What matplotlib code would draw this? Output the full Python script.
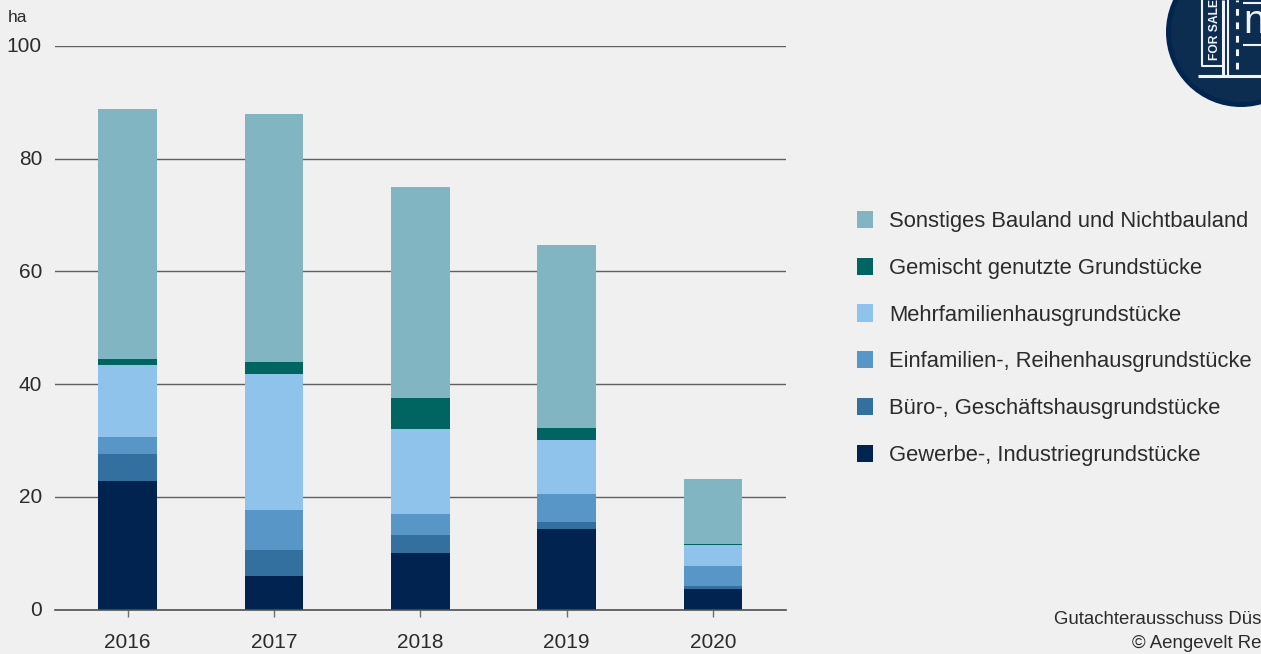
import numpy as np
import matplotlib
matplotlib.use("Agg")
import matplotlib.pyplot as plt
from matplotlib.patches import Circle, Patch
from matplotlib.transforms import ScaledTranslation

plt.rcParams['font.family'] = ['Liberation Sans', 'DejaVu Sans']

years = ['2016', '2017', '2018', '2019', '2020']
gewerbe = [22.8, 5.9, 10.0, 14.2, 3.6]
buero = [4.8, 4.6, 3.2, 1.3, 0.5]
einfamilien = [3.0, 7.1, 3.7, 5.0, 3.6]
mehrfamilien = [12.8, 24.2, 15.1, 9.5, 3.7]
gemischt = [1.0, 2.1, 5.5, 2.2, 0.2]
sonstiges = [44.4, 44.0, 37.5, 32.5, 11.6]

series = [
    ('Gewerbe-, Industriegrundstücke', gewerbe, '#002350'),
    ('Büro-, Geschäftshausgrundstücke', buero, '#33709f'),
    ('Einfamilien-, Reihenhausgrundstücke', einfamilien, '#5796c7'),
    ('Mehrfamilienhausgrundstücke', mehrfamilien, '#90c3ec'),
    ('Gemischt genutzte Grundstücke', gemischt, '#006560'),
    ('Sonstiges Bauland und Nichtbauland', sonstiges, '#80b5c1'),
]

W, H = 1261, 654
BG = '#f0f0f0'
TXT = '#2b2b2b'

fig = plt.figure(figsize=(W / 100, H / 100), dpi=100, facecolor=BG)
ax = fig.add_axes([54.5 / W, 1 - 609.5 / H, 731.5 / W, 563.5 / H], facecolor=BG)

x = np.arange(len(years))
bottom = np.zeros(len(years))
for name, vals, col in series:
    ax.bar(x, vals, 0.4, bottom=bottom, color=col, zorder=3)
    bottom += np.array(vals)

ax.set_xlim(-0.5, 4.5)
ax.set_ylim(0, 100)
ax.set_xticks(x, years)
ax.set_yticks([0, 20, 40, 60, 80, 100])
ax.grid(axis='y', color='#606060', linewidth=1, zorder=1)
ax.set_axisbelow(True)
for s in ['top', 'right', 'left']:
    ax.spines[s].set_visible(False)
ax.spines['bottom'].set_color('#505050')
ax.spines['bottom'].set_linewidth(1.2)
ax.spines['bottom'].set_zorder(5)
ax.tick_params(axis='y', length=0, pad=9, labelsize=15, labelcolor=TXT)
ax.tick_params(axis='x', length=5, width=1, color='#6e6e6e', pad=12, labelsize=15, labelcolor=TXT)

# nudge the y labels up a little so they sit on the gridlines
up = ScaledTranslation(0, 1 / 100, fig.dpi_scale_trans)
for lab in ax.get_yticklabels():
    lab.set_transform(lab.get_transform() + up)

fig.text(8 / W, 1 - 17 / H, 'ha', fontsize=12.5, color=TXT, va='center', ha='left')

# legend lists the top segment first
handles = [Patch(facecolor=c, label=n) for n, _, c in reversed(series)]
fig.legend(handles=handles, loc='upper left', bbox_to_anchor=(848 / W, 1 - 202 / H),
           frameon=False, fontsize=15.8, handlelength=0.73, handleheight=0.82,
           handletextpad=0.73, labelspacing=1.17, borderpad=0.4, borderaxespad=0,
           labelcolor=TXT)

fig.text(1261 / W, 1 - 620 / H, 'Gutachterausschuss Düs', fontsize=13.45, color=TXT,
         va='center', ha='right')
fig.text(1261 / W, 1 - 643 / H, '© Aengevelt Re', fontsize=13.45, color=TXT,
         va='center', ha='right')

# round logo in the upper right corner, drawn in pixel coordinates
lg = fig.add_axes([0, 0, 1, 1], facecolor='none')
lg.set_xlim(0, W)
lg.set_ylim(H, 0)
lg.axis('off')
lg.add_patch(Circle((1241, 32), 75, facecolor='#00264f', edgecolor='none'))
lg.add_patch(Circle((1241, 32), 70, facecolor='#0d2d50', edgecolor='none'))
lw = 1.5
white = '#f0f4f8'
lg.plot([1198, 1261], [75.5, 75.5], color=white, lw=2.2, solid_capstyle='butt')
lg.plot([1201.5, 1201.5, 1222], [0, 65.5, 65.5], color=white, lw=lw, solid_capstyle='butt')
lg.plot([1222.5, 1222.5], [0, 75], color=white, lw=2.2, solid_capstyle='butt')
lg.plot([1227.5, 1227.5], [0, 75], color=white, lw=lw, solid_capstyle='butt')
lg.plot([1236.5, 1236.5], [69, 0], color=white, lw=2.2, linestyle=(0, (2.2, 2.2)))
lg.plot([1243, 1261], [3, 3], color=white, lw=lw, solid_capstyle='butt')
lg.plot([1243, 1261], [44.5, 44.5], color=white, lw=lw, solid_capstyle='butt')
lg.text(1215.5, 59.5, 'FOR SALE', rotation=90, fontsize=8.7, fontweight='bold', color=white,
        ha='center', va='bottom')
lg.text(1243, 33, 'n', fontsize=29, color=white, ha='left', va='baseline')

fig.savefig('out.png', dpi=100, facecolor=BG)
